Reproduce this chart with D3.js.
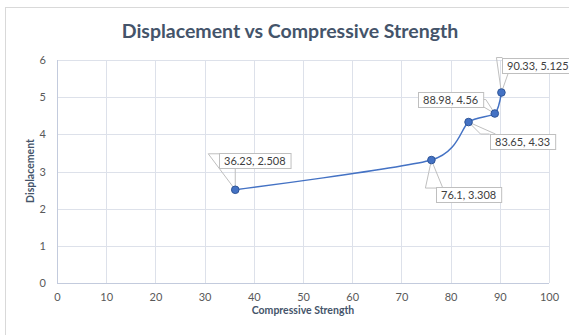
<!DOCTYPE html>
<html>
<head>
<meta charset="utf-8">
<script src="https://cdn.jsdelivr.net/npm/d3@7"></script>
<style>
  html, body { margin: 0; padding: 0; background: #fff; }
  svg { display: block; }
</style>
</head>
<body>
<svg id="chart" width="569" height="335"></svg>
<script>
// Data
const strength = [36.23, 76.1, 83.65, 88.98, 90.33];
const displacement = [2.508, 3.308, 4.33, 4.56, 5.125];
const xTicks = [0, 10, 20, 30, 40, 50, 60, 70, 80, 90, 100];
const yTicks = [0, 1, 2, 3, 4, 5, 6];
const labelText = ["36.23, 2.508", "76.1, 3.308", "83.65, 4.33", "88.98, 4.56", "90.33, 5.125"];

// Callout placement relative to each point: box top-left (dx, dy), and elbow (ex, ey)
const callouts = [
  { dx: -16, dy: -37, ex: -27, ey: -36 },
  { dx: 5, dy: 27, ex: -6, ey: 28 },
  { dx: 21, dy: 12, ex: 12, ey: 12 },
  { dx: -77, dy: -22, ex: -9, ey: -14 },
  { dx: 1, dy: -35, ex: -5, ey: -35 }
];

const svg = d3.select("#chart");
const W = 569, H = 335;
const m = { left: 57, right: 20, top: 60, bottom: 52 };

// Chart frame
svg.append("rect").attr("x", 5.5).attr("y", 7.5).attr("width", W).attr("height", H)
  .attr("fill", "#fff").attr("stroke", "#d9d9d9").attr("stroke-width", 1);

const x = d3.scaleLinear().domain([0, 100]).range([m.left, W - m.right]);
const y = d3.scaleLinear().domain([0, 6]).range([H - m.bottom, m.top]);

const font = "Lato, 'Open Sans', sans-serif";

// Gridlines
svg.append("g").selectAll("line.h").data(yTicks).join("line")
  .attr("x1", x(0)).attr("x2", x(100))
  .attr("y1", d => Math.round(y(d)) + 0.5).attr("y2", d => Math.round(y(d)) + 0.5)
  .attr("stroke", "#dde1ea").attr("stroke-width", 1);
svg.append("g").selectAll("line.v").data(xTicks).join("line")
  .attr("y1", y(0)).attr("y2", y(6))
  .attr("x1", d => Math.round(x(d)) + 0.5).attr("x2", d => Math.round(x(d)) + 0.5)
  .attr("stroke", "#dde1ea").attr("stroke-width", 1);

// Axis lines
svg.append("line").attr("x1", Math.round(x(0)) + 0.5).attr("x2", Math.round(x(0)) + 0.5)
  .attr("y1", y(0)).attr("y2", y(6)).attr("stroke", "#c3cbdd");
svg.append("line").attr("x1", x(0)).attr("x2", x(100))
  .attr("y1", Math.round(y(0)) + 0.5).attr("y2", Math.round(y(0)) + 0.5).attr("stroke", "#c3cbdd");

// Tick labels
const xAxis = d3.axisBottom(x).tickValues(xTicks).tickSize(0).tickPadding(10).tickFormat(d3.format("d"));
const gx = svg.append("g").attr("transform", `translate(0,${y(0)})`).call(xAxis);
gx.select(".domain").remove();
gx.selectAll("text").attr("font-family", font).attr("font-size", 11).attr("fill", "#595959");

const yAxis = d3.axisLeft(y).tickValues(yTicks).tickSize(0).tickPadding(11).tickFormat(d3.format("d"));
const gy = svg.append("g").attr("transform", `translate(${x(0)},0)`).call(yAxis);
gy.select(".domain").remove();
gy.selectAll("text").attr("font-family", font).attr("font-size", 11).attr("fill", "#595959");

// Title and axis titles
svg.append("text").attr("x", 290).attr("y", 38).attr("text-anchor", "middle")
  .attr("font-family", font).attr("font-weight", "bold").attr("font-size", 19.5)
  .attr("fill", "#44546a").text("Displacement vs Compressive Strength");
svg.append("text").attr("x", 303).attr("y", 314).attr("text-anchor", "middle")
  .attr("font-family", font).attr("font-weight", "bold").attr("font-size", 10.5)
  .attr("fill", "#44546a").text("Compressive Strength");
svg.append("text").attr("transform", "translate(34,171) rotate(-90)").attr("text-anchor", "middle")
  .attr("font-family", font).attr("font-weight", "bold").attr("font-size", 10.5)
  .attr("fill", "#44546a").text("Displacement");

// Smoothed series line (cardinal spline)
const pts = strength.map((s, i) => [x(s), y(displacement[i])]);
svg.append("path").datum(pts)
  .attr("d", d3.line().curve(d3.curveCardinal.tension(0.3)))
  .attr("fill", "none").attr("stroke", "#4472c4").attr("stroke-width", 1.5);

// Callouts
const cg = svg.append("g");
pts.forEach((p, i) => {
  const c = callouts[i];
  const t = cg.append("text")
    .attr("font-family", font).attr("font-size", 11).attr("fill", "#404040")
    .text(labelText[i]);
  const bw = t.node().getComputedTextLength() + 10, bh = 15;
  const bx = p[0] + c.dx, by = p[1] + c.dy;
  const ex = p[0] + c.ex, ey = p[1] + c.ey;
  // leader: point -> elbow -> box side, plus a direct line to the box
  const side = bx > ex ? bx : bx + bw;
  cg.insert("polyline", "text")
    .attr("points", `${p[0]},${p[1]} ${ex},${ey} ${side},${ey}`)
    .attr("fill", "none").attr("stroke", "#bfbfbf").attr("stroke-width", 1);
  const nearX = Math.max(bx, Math.min(p[0], bx + bw));
  const nearY = p[1] < by ? by : by + bh;
  cg.insert("line", "text")
    .attr("x1", p[0]).attr("y1", p[1]).attr("x2", nearX + (p[0] < bx ? 6 : 0)).attr("y2", nearY)
    .attr("stroke", "#bfbfbf").attr("stroke-width", 1);
  cg.insert("rect", "text")
    .attr("x", Math.round(bx) + 0.5).attr("y", Math.round(by) + 0.5).attr("width", bw).attr("height", bh)
    .attr("fill", "#fff").attr("stroke", "#bfbfbf");
  t.attr("x", Math.round(bx) + 5).attr("y", Math.round(by) + 11.5);
});

// Markers
svg.append("g").selectAll("circle").data(pts).join("circle")
  .attr("cx", d => d[0]).attr("cy", d => d[1]).attr("r", 3.8)
  .attr("fill", "#4472c4").attr("stroke", "#2f5597").attr("stroke-width", 1);
</script>
</body>
</html>
